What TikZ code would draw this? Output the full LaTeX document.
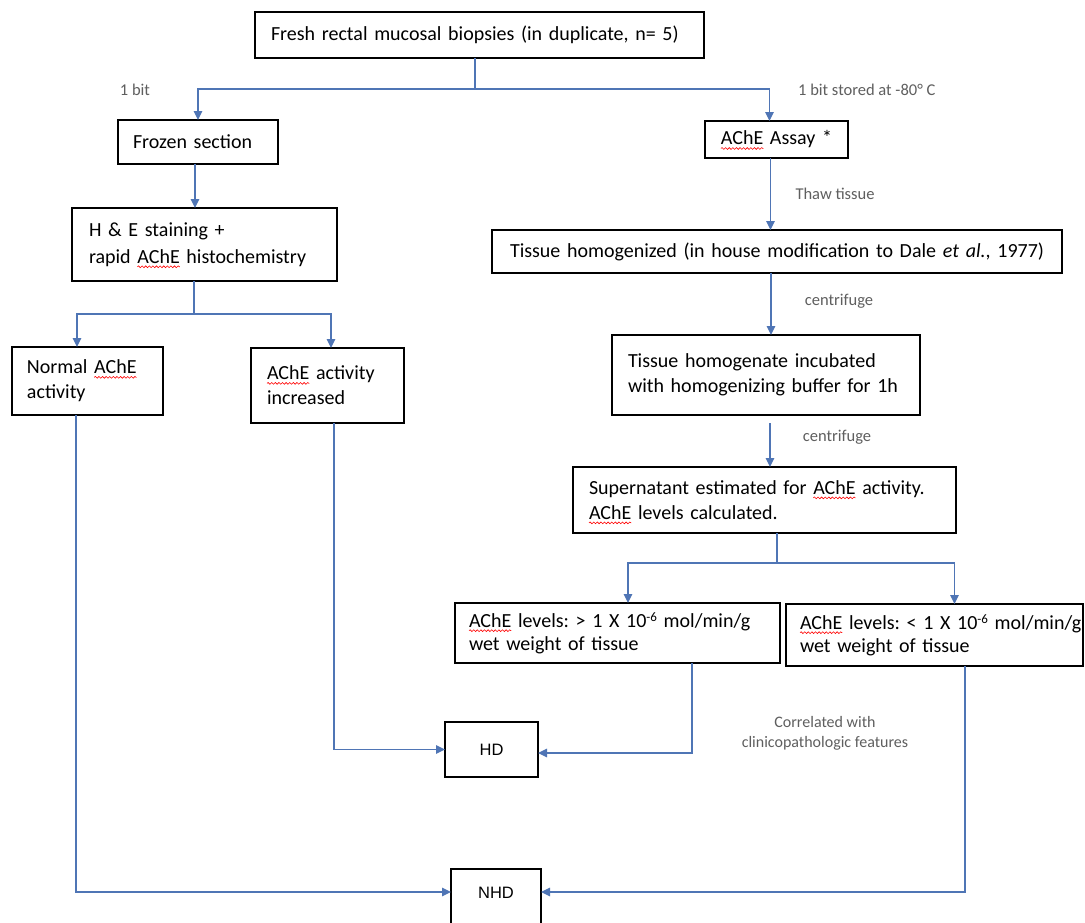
\documentclass[tikz,border=0pt]{standalone}
\usepackage{fontspec}
\setmainfont{Carlito}
\newfontfamily\arialf{Liberation Sans}
\newfontfamily\lvfam{Carlito}[WordSpace=0.6]
\usetikzlibrary{arrows.meta,decorations.pathmorphing}
\definecolor{conn}{RGB}{79,117,181}
\definecolor{lbl}{RGB}{95,95,95}
\newcommand\ache{\tikz[baseline=(w.base)]{\node[inner sep=0pt,outer sep=0pt,minimum width=0pt,minimum height=0pt,draw=none,anchor=base,text=black] (w) {AChE};
  \draw[overlay, red, line width=0.6pt, decorate, decoration={snake,amplitude=0.9pt,segment length=3.6pt}]
  ([yshift=-3.5pt]w.base west) -- ([yshift=-3.5pt]w.base east);}}
\newcommand\mainsz{\fontsize{20}{25}\selectfont\frenchspacing}
\newcommand\lvsz{\lvfam\fontsize{20}{25}\selectfont\frenchspacing}
\newcommand\smallsz{\fontsize{16.5}{20}\selectfont}
\newcommand\supsix{{\fontsize{13}{13}\selectfont\raisebox{6pt}{-6}}}
\begin{document}
\begin{tikzpicture}[x=1pt,y=-1pt,
  bx/.style={draw=black, line width=1.5pt, anchor=north west, inner ysep=0pt, outer sep=0pt, align=left, font=\mainsz, text=black},
  endbx/.style={draw=black, line width=1.5pt, anchor=north west, outer sep=0pt, font=\arialf\fontsize{16.5}{20}\selectfont},
  lb/.style={font=\smallsz, text=lbl, inner sep=0pt},
  ln/.style={draw=conn, line width=1.3pt},
  arr/.style={ln, -{Triangle[length=9pt,width=8.5pt]}}]
\useasboundingbox (0,0) rectangle (1085,922);
\fill[white] (0,0) rectangle (1085,922);

% boxes
\node[bx, inner xsep=16pt, text width=417pt, minimum height=46pt] (top) at (255,12)
  {Fresh rectal mucosal biopsies (in duplicate, n= 5)};
\node[bx, inner xsep=15pt, text width=130pt, minimum height=44pt] (frozen) at (118,120)
  {Frozen section};
\node[bx, inner xsep=17pt, text width=231pt, minimum height=73pt] (he) at (72,208)
  {H \& E staining +\\[2pt]rapid \ache{} histochemistry};
\node[bx, inner xsep=15pt, text width=121pt, minimum height=68pt] (normal) at (12,347)
  {Normal \ache\\activity};
\node[bx, inner xsep=16pt, text width=121pt, minimum height=75pt] (incr) at (251,348)
  {\ache{} activity\\increased};
\node[bx, align=center, inner xsep=8pt, text width=127pt, minimum height=37pt] (assay) at (705,121)
  {\ache{} Assay *};
\node[bx, align=center, inner xsep=10pt, text width=550pt, minimum height=43pt] (homog) at (492,230)
  {Tissue homogenized (in house modification to Dale \textit{et al.}, 1977)};
\node[bx, inner xsep=16pt, text width=276pt, minimum height=80pt] (homogenate) at (612,335)
  {Tissue homogenate incubated\\with homogenizing buffer for 1h};
\node[bx, inner xsep=16pt, text width=351pt, minimum height=66pt] (super) at (573,467)
  {Supernatant estimated for \ache{} activity.\\\ache{} levels calculated.};
\node[bx, inner xsep=14pt, text width=297pt, minimum height=60pt, font=\lvsz] (lv1) at (455,603)
  {\mbox{\ache{} levels: {>} 1 X 10\supsix{} mol/min/g}\\[-2pt]wet weight of tissue};
\node[bx, inner xsep=14pt, text width=269pt, minimum height=62pt, font=\lvsz] (lv2) at (786,604)
  {\mbox{\ache{} levels: {<} 1 X 10\supsix{} mol/min/g}\\[-2pt]wet weight of tissue};
\node[endbx, minimum width=93pt, minimum height=55pt] (HD) at (445,722) {HD};
\node[endbx, minimum width=90pt, text height=12pt, text depth=40pt, inner ysep=17pt] (NHD) at (451,869) {NHD};

% labels
\node[lb] (l1) at (135,90) {1 bit};
\node[lb, anchor=west] (l2) at (798,90) {1 bit stored at -80° C};
\node[lb] (l3) at (835,194) {Thaw tissue};
\node[lb] (l4) at (839,301) {centrifuge};
\node[lb] (l5) at (837,437) {centrifuge};
\node[lb, align=center, font=\fontsize{16}{20}\selectfont] (l6) at (825,733) {Correlated with\\clinicopathologic features};

% connectors
\coordinate (j1) at (475,89);
\draw[ln] (top.south -| j1) -- (j1);
\draw[arr] (j1) -| (frozen.north);
\draw[arr] (j1) -| ([xshift=-7pt]assay.north);
\draw[arr] ([xshift=-3pt]frozen.south) -- ([xshift=-3pt]frozen.south |- he.north);
\coordinate (j2) at (194,314);
\draw[ln] (he.south -| j2) -- (j2);
\draw[arr] (j2) -| ([xshift=-10.5pt]normal.north);
\draw[arr] (j2) -| ([xshift=3.5pt]incr.north);
\draw[arr] ([xshift=-6pt]assay.south) -- ([xshift=-6pt]assay.south |- homog.north);
\draw[arr] ([xshift=-6pt]homog.south) -- ([xshift=-6pt]homog.south |- homogenate.north);
\draw[arr, shorten <=8pt] ([xshift=4pt]homogenate.south) -- ([xshift=4pt]homogenate.south |- super.north);
\coordinate (j3) at (777,563);
\draw[ln] (super.south -| j3) -- (j3);
\draw[arr] (j3) -| ([xshift=10.5pt]lv1.north);
\draw[arr] (j3) -| ([xshift=20pt]lv2.north);
\draw[arr] ([xshift=74.5pt]lv1.south) |- ([yshift=-3.5pt]HD.east);
\draw[arr] ([xshift=6.5pt]incr.south) |- (HD.west);
\coordinate (yN) at (0,892);
\draw[arr] ([xshift=-11.5pt]normal.south) |- (NHD.west |- yN);
\draw[arr] ([xshift=30.5pt]lv2.south) |- (NHD.east |- yN);
\end{tikzpicture}
\end{document}
